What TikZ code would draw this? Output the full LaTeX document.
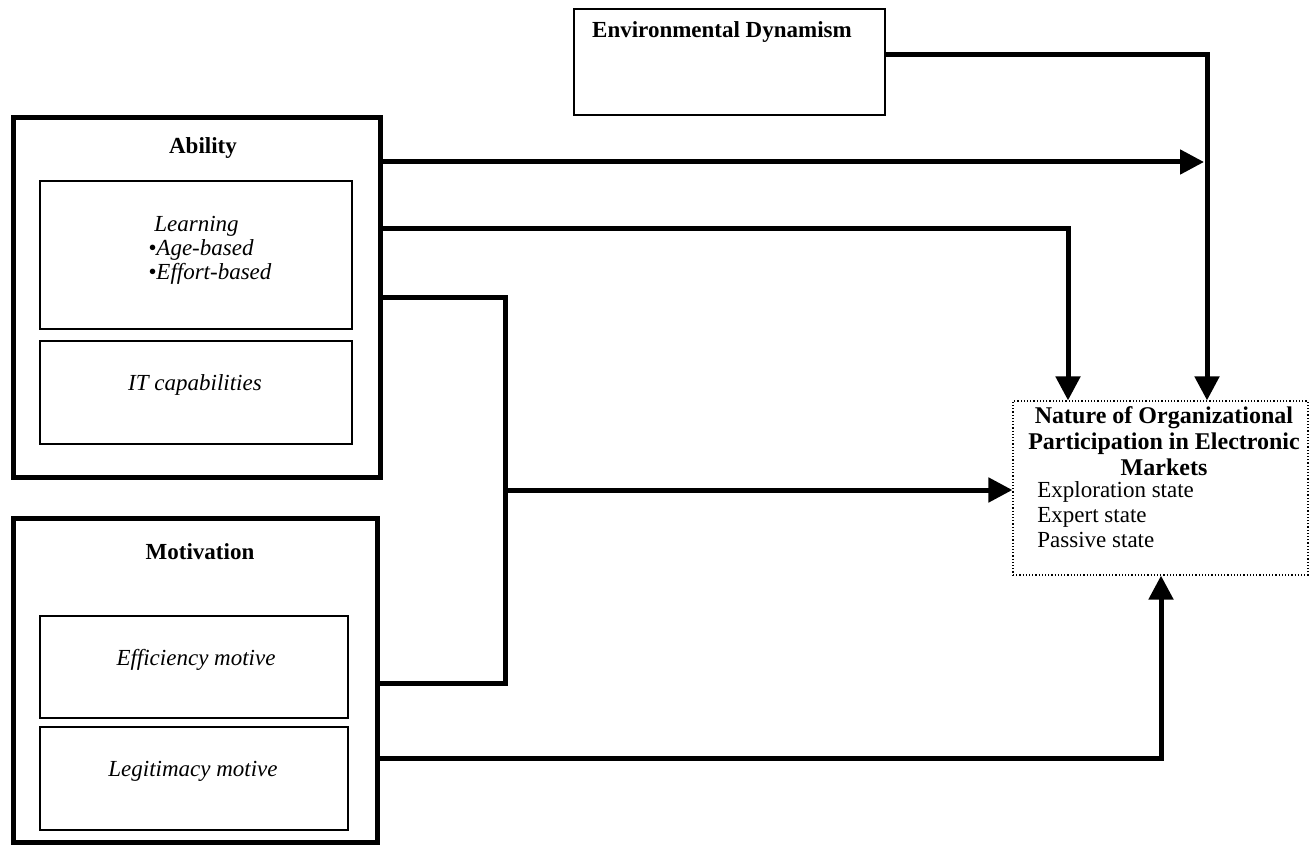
\documentclass[tikz,border=0pt]{standalone}
\usepackage{fontspec}
\setmainfont{Liberation Serif}
\usetikzlibrary{arrows.meta,calc}
\tikzset{
  outerbox/.style={draw, line width=2.5pt, inner sep=0pt},
  innerbox/.style={draw, line width=0.7pt, inner sep=0pt},
  thinbox/.style={draw, line width=0.6pt, inner sep=0pt},
  dotbox/.style={draw, line width=0.6pt, densely dotted, inner sep=0pt},
  lbl/.style={inner sep=0pt, font=\fontsize{11.5}{12}\selectfont},
  blbl/.style={inner sep=0pt, font=\fontsize{11.5}{12}\selectfont\bfseries},
  ilbl/.style={inner sep=0pt, font=\fontsize{11.5}{12}\selectfont\itshape},
  wire/.style={line width=2.5pt, line join=miter},
  conn/.style={wire, -{Triangle[length=12pt,width=12pt]}}
}
\begin{document}
\begin{tikzpicture}[x=0.5pt,y=-0.5pt]
\useasboundingbox (0,0) rectangle (1311,845);
% boxes
\node[thinbox, minimum width=155.5pt, minimum height=53pt] (env) at (729.5,62) {};
\node[outerbox, minimum width=183.5pt, minimum height=179.5pt] (ability) at (196.5,297.5) {};
\node[innerbox, minimum width=156pt, minimum height=74pt] (learning) at (196,255) {};
\node[innerbox, minimum width=156pt, minimum height=51.5pt] (itcap) at (196,392.5) {};
\node[outerbox, minimum width=182pt, minimum height=162pt] (motivation) at (195,680) {};
\node[innerbox, minimum width=154pt, minimum height=51pt] (efficiency) at (194,667) {};
\node[innerbox, minimum width=154pt, minimum height=51.5pt] (legitimacy) at (194,778.5) {};
\node[dotbox, minimum width=147.5pt, minimum height=87pt] (nature) at (1160.5,488) {};
% labels
\node[blbl] (envt) at (722,32) {Environmental Dynamism};
\node[blbl] (abt) at (203,148) {Ability};
\node[ilbl, align=left, anchor=west] (learnt) at (148,250) {\hspace{3pt}Learning\\\textbullet Age-based\\\textbullet Effort-based};
\node[ilbl] (itt) at (195,385) {IT capabilities};
\node[blbl] (mott) at (200,552) {Motivation};
\node[ilbl] (efft) at (196,660) {Efficiency motive};
\node[ilbl] (legt) at (193,771) {Legitimacy motive};
\node[inner sep=0pt, align=center, font=\fontsize{12}{13}\selectfont\bfseries] (natt) at (1164,441) {Nature of Organizational\\Participation in Electronic\\Markets};
\node[inner sep=0pt, align=left, anchor=west, font=\fontsize{11.5}{12.5}\selectfont] (stt) at (1037,515) {Exploration state\\Expert state\\Passive state};
% connectors
\coordinate (ecorner) at (1207,55);
\coordinate (abend) at (1204,162);
\coordinate (lc) at (1068,229);
\coordinate (jt) at (505,297);
\coordinate (jb) at (505,683);
\coordinate (jm) at (505,490);
\coordinate (lg) at (1161,758);
\draw[conn] (env.east |- ecorner) -- (ecorner) -- (ecorner |- nature.north);
\draw[conn] (ability.east |- abend) -- (abend);
\draw[conn] (ability.east |- lc) -| (lc |- nature.north);
\draw[wire] (ability.east |- jt) -- (jt) -- (jb) -- (motivation.east |- jb);
\draw[conn] (jm) -- (jm -| nature.west);
\draw[conn] (motivation.east |- lg) -| (lg |- nature.south);
\end{tikzpicture}
\end{document}
